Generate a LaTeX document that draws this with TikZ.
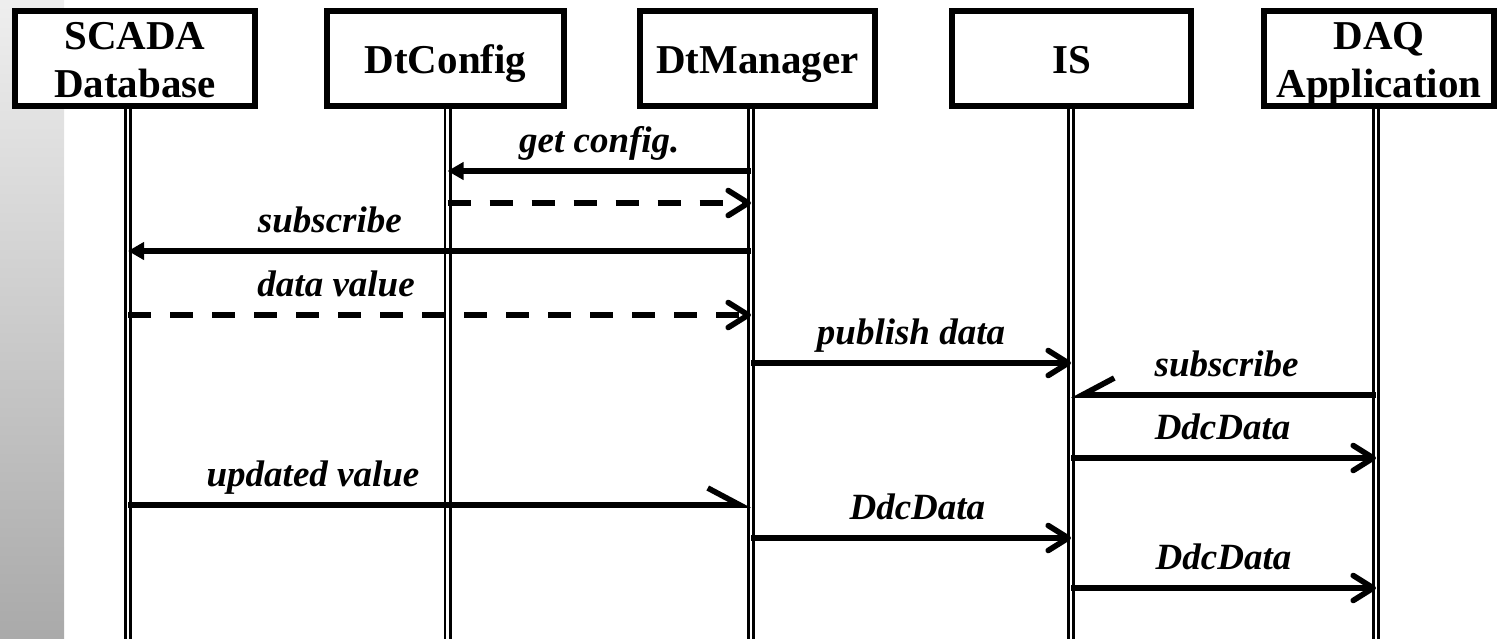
\documentclass[tikz,border=0pt]{standalone}
\usepackage{fontspec}
\setmainfont{Liberation Serif}
\usetikzlibrary{arrows.meta}
\newcommand{\boxtext}[3]{\raisebox{0pt}[#1][#2]{\begin{tabular}[b]{@{}c@{}}#3\end{tabular}}}
\begin{document}
\begin{tikzpicture}[x=0.5pt,y=-0.5pt,
  actor/.style={draw, line width=3pt, fill=white, inner sep=0pt,
    minimum height=47.5pt, font=\bfseries\fontsize{20.5}{24}\selectfont},
  life/.style={double, line width=1.3pt, double distance=1.4pt},
  msg/.style={line width=2.8pt},
  dsh/.style={msg, dash pattern=on 11.5pt off 9.5pt},
  tri/.style={-{Triangle[length=8pt,width=8.5pt]}},
  vee/.style={-{Straight Barb[length=10pt,width=12.5pt,line cap=round,line join=round]}},
  halfbarb/.style={-{Straight Barb[#1,length=16pt,width=17pt]}},
  lbl/.style={font=\bfseries\itshape\fontsize{18.5}{22}\selectfont, anchor=base, yshift=9.5pt, inner sep=0pt}
]
\useasboundingbox (0,0) rectangle (1497,638);
\shade[top color=gray!13, bottom color=gray!67] (0,0) rectangle (64,638);

% lifeline coordinates
\coordinate (L1) at (128,100);
\coordinate (L2) at (447.5,100);
\coordinate (L3) at (751,100);
\coordinate (L4) at (1071,100);
\coordinate (L5) at (1376,100);
\foreach \l in {L1,L2,L3,L4,L5}{
  \draw[life] (\l) -- (\l |- 0,640);
}

% actors
\node[actor, minimum width=120pt] (scada) at (135,58.5) {\boxtext{38.5pt}{0pt}{SCADA\\Database}};
\node[actor, minimum width=118.5pt] (dtconfig) at (445.5,58.5) {\boxtext{14.5pt}{0pt}{DtConfig}};
\node[actor, minimum width=117.5pt] (dtmanager) at (757.5,58.5) {\boxtext{14.5pt}{0pt}{DtManager}};
\node[actor, minimum width=119.5pt] (is) at (1071.5,58.5) {\boxtext{14.5pt}{0pt}{IS}};
\node[actor, minimum width=115pt] (daq) at (1379,58.5) {\boxtext{38.5pt}{0pt}{DAQ\\Application}};

% messages
\draw[msg,tri] (L3 |- 0,171) -- node[lbl,pos=0.5] {get config.} (L2 |- 0,171);
\draw[dsh,vee] (L2 |- 0,203) -- (L3 |- 0,203);
\draw[msg,tri] (L3 |- 0,251) -- node[lbl,pos=0.676] {subscribe} (L1 |- 0,251);
\draw[dsh,vee] (L1 |- 0,315) -- node[lbl,pos=0.334] {data value} (L3 |- 0,315);
\draw[msg,vee] (L3 |- 0,363) -- node[lbl,pos=0.5] {publish data} (L4 |- 0,363);
\draw[msg,halfbarb=right] (L5 |- 0,395) -- node[lbl,pos=0.49] {subscribe} (L4 |- 0,395);
\draw[msg,vee] (L4 |- 0,458) -- node[lbl,pos=0.497] {DdcData} (L5 |- 0,458);
\draw[msg,halfbarb=left] (L1 |- 0,505) -- node[lbl,pos=0.297] {updated value} (L3 |- 0,505);
\draw[msg,vee] (L3 |- 0,538) -- node[lbl,pos=0.52] {DdcData} (L4 |- 0,538);
\draw[msg,vee] (L4 |- 0,588) -- node[lbl,pos=0.5] {DdcData} (L5 |- 0,588);
\end{tikzpicture}
\end{document}
